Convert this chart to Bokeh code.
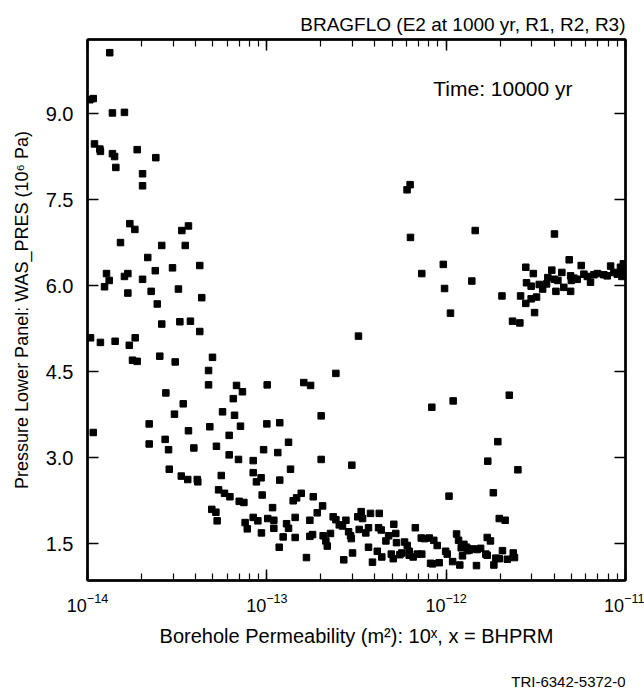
from bokeh.plotting import figure
from bokeh.layouts import column
from bokeh.models import (ColumnDataSource, LogAxis, LinearAxis, FixedTicker, LogTicker,
                          Title, Label, PrintfTickFormatter)
from bokeh.core.properties import value
from bokeh.embed import file_html
from bokeh.resources import INLINE

# BHPRM exponent (x) and pressure (10^6 Pa)
bhprm = [
    -13.876, -13.987, -13.968, -13.861, -13.794, -13.961, -13.931, -13.928, -13.861, -13.849,
    -13.723, -13.619, -13.842, -13.693, -13.693, -13.764, -13.736, -13.474, -13.437, -13.816,
    -13.586, -13.455, -13.664, -13.894, -13.879, -13.794, -13.775, -13.622, -13.526, -13.374,
    -13.693, -13.905, -13.775, -13.645, -13.493, -13.363, -13.611, -13.586, -13.485, -13.426,
    -13.374, -13.983, -13.928, -13.846, -13.767, -13.734, -13.749, -13.723, -13.597, -13.511,
    -13.303, -13.325, -13.325, -13.169, -13.136, -12.998, -13.563, -13.187, -13.466, -13.515,
    -13.247, -13.180, -13.968, -13.656, -13.656, -13.567, -13.548, -13.437, -13.407, -13.318,
    -13.147, -13.210, -13.281, -13.000, -13.018, -13.210, -13.158, -13.076, -13.544, -13.477,
    -13.441, -13.388, -13.385, -13.254, -13.076, -13.032, -13.058, -13.269, -13.236, -13.206,
    -13.154, -13.128, -13.026, -13.307, -13.284, -13.277, -13.121, -13.109, -13.076, -13.050,
    -13.030, -12.995,
    -12.928, -12.697, -12.080, -12.879, -12.939, -12.697, -12.526, -12.868, -12.928, -12.853,
    -12.834, -12.808, -12.741, -12.968, -12.689, -12.719, -12.961, -12.842, -12.760, -12.961,
    -12.890, -12.879, -12.909, -12.842, -12.760, -12.745, -12.931, -12.779, -12.686, -12.671,
    -12.663, -12.645, -12.630, -12.615, -12.596, -12.578, -12.559, -12.544, -12.533, -12.529,
    -12.522, -12.571, -12.493, -12.474, -12.466, -12.485, -12.448, -12.433, -12.422, -12.373,
    -12.377, -12.362, -12.433, -12.411, -12.384, -12.359, -12.336, -12.321, -12.292, -12.281,
    -12.277, -12.306, -12.295, -12.258, -12.247, -12.232, -12.217, -12.206, -12.206, -12.184,
    -12.161, -12.172, -12.139, -12.121, -12.094, -12.069, -12.050, -12.136, -12.087, -12.076,
    -12.039, -12.003, -11.984, -12.218, -12.201, -12.199, -12.016, -12.136, -12.009,
    -11.976, -12.489, -12.615, -12.794, -12.756,
    -11.838, -11.396, -11.857, -11.689, -11.556, -11.514, -11.585, -11.556, -11.526, -11.496,
    -11.507, -11.630, -11.589, -11.552, -11.526, -11.481, -11.462, -11.440, -11.433, -11.411,
    -11.396, -11.377, -11.388, -11.344, -11.355, -11.314, -11.247, -11.306, -11.302, -11.288,
    -11.269, -11.306, -11.232, -11.213, -11.195, -11.176, -11.157, -11.121, -11.102, -11.083,
    -11.065, -11.046, -11.028, -11.016, -11.020, -11.012, -11.961, -11.648,
    -11.712, -11.768, -11.600, -11.737, -11.704, -11.671, -11.942, -11.931, -11.771, -11.753,
    -11.994, -11.901, -11.886, -11.916, -11.871, -11.849, -11.827, -11.808, -11.909, -11.882,
    -11.779, -11.771, -11.686, -11.723, -11.704, -11.659, -11.626, -11.619, -11.964, -11.924,
    -11.831, -11.734,
]

was_pres = [
    10.06, 9.24, 9.26, 9.01, 9.02, 8.47, 8.38, 8.34, 8.30, 8.25,
    8.37, 8.23, 8.06, 7.95, 7.74, 7.08, 6.98, 6.96, 7.04, 6.75,
    6.70, 6.70, 6.49, 6.21, 6.09, 6.16, 6.21, 6.26, 6.31, 6.35,
    6.11, 5.98, 5.87, 5.90, 5.94, 5.79, 5.68, 5.33, 5.37, 5.38,
    5.20, 5.09, 5.01, 5.03, 4.96, 5.09, 4.70, 4.68, 4.77, 4.67,
    4.75, 4.52, 4.27, 4.26, 4.15, 4.27, 4.13, 4.03, 3.94, 3.76,
    3.80, 3.74, 3.44, 3.59, 3.24, 3.32, 3.14, 3.47, 3.17, 3.54,
    3.55, 3.39, 3.20, 3.59, 3.14, 3.05, 2.97, 2.95, 2.80, 2.68,
    2.62, 2.62, 2.58, 2.69, 2.74, 2.65, 2.58, 2.44, 2.38, 2.32,
    2.24, 2.22, 2.35, 2.10, 2.05, 1.90, 1.87, 1.76, 1.96, 1.90,
    1.69, 1.94,
    3.61, 3.73, 3.88, 3.27, 3.09, 2.97, 2.87, 2.80, 2.61, 2.25,
    2.30, 2.38, 2.32, 2.13, 2.16, 2.04, 1.91, 1.96, 1.91, 1.77,
    1.85, 1.77, 1.62, 1.61, 1.63, 1.66, 1.44, 1.26, 1.64, 1.55,
    1.46, 1.68, 1.97, 1.92, 1.83, 1.81, 1.91, 1.71, 1.64, 1.59,
    1.34, 1.22, 1.97, 2.06, 1.94, 1.75, 1.69, 1.78, 2.03, 2.03,
    1.78, 1.74, 1.44, 1.18, 1.37, 1.27, 1.55, 1.64, 1.84, 1.68,
    1.52, 1.32, 1.24, 1.31, 1.34, 1.53, 1.47, 1.37, 1.30, 1.27,
    1.32, 1.78, 1.60, 1.59, 1.60, 1.56, 1.47, 1.32, 1.16, 1.15,
    1.17, 1.37, 2.33, 7.67, 7.76, 6.84, 6.37, 6.21, 5.95,
    5.52, 5.12, 4.47, 4.31, 4.26,
    6.96, 6.90, 6.08, 5.82, 6.32, 6.21, 5.82, 5.69, 5.77, 5.80,
    5.53, 5.38, 5.35, 6.05, 5.99, 6.02, 5.94, 6.03, 6.14, 6.27,
    6.11, 6.09, 5.90, 5.97, 6.23, 6.45, 6.35, 6.17, 6.09, 6.13,
    6.11, 5.90, 6.20, 6.16, 6.06, 6.19, 6.21, 6.19, 6.17, 6.34,
    6.23, 6.20, 6.32, 6.26, 6.16, 6.38, 3.99, 4.09,
    3.28, 2.94, 2.79, 2.39, 1.94, 1.91, 1.67, 1.56, 1.61, 1.55,
    1.32, 1.49, 1.44, 1.43, 1.39, 1.41, 1.40, 1.42, 1.29, 1.38,
    1.32, 1.30, 1.38, 1.25, 1.24, 1.23, 1.34, 1.26, 1.19, 1.13,
    1.12, 1.13,
]

y_ticks = [1.5, 3.0, 4.5, 6.0, 7.5, 9.0]
title_text = "BRAGFLO (E2 at 1000 yr, R1, R2, R3)"
time_text = "Time: 10000 yr"
x_label = "Borehole Permeability (m\u00b2): 10\u02e3, x = BHPRM"
y_label = "Pressure Lower Panel: WAS_PRES (10\u2076 Pa)"
footer_text = "TRI-6342-5372-0"

FONT = "Liberation Sans"

src = ColumnDataSource(dict(x=[10 ** b for b in bhprm], y=was_pres))

fig = figure(width=644, height=670, x_axis_type="log",
             x_range=(1e-14, 1e-11), y_range=(0.86, 10.29),
             output_backend="svg", toolbar_location=None,
             min_border_left=87, min_border_right=19,
             min_border_top=39, min_border_bottom=90)
fig.grid.visible = False
fig.outline_line_color = "black"
fig.outline_line_width = 2
fig.background_fill_color = "white"
fig.border_fill_color = "white"

fig.scatter("x", "y", source=src, marker="square", size=6.5,
            fill_color="black", line_color="black")

xt = LogTicker(desired_num_ticks=4, num_minor_ticks=10)
yt = FixedTicker(ticks=y_ticks)

def style_axis(ax):
    ax.major_tick_in = 11
    ax.major_tick_out = 0
    ax.minor_tick_in = 7
    ax.minor_tick_out = 0
    ax.axis_line_width = 2.5
    ax.major_tick_line_width = 1.5
    ax.minor_tick_line_width = 1.2
    ax.major_label_text_font = FONT
    ax.major_label_text_font_size = "18px"
    ax.major_label_text_color = "black"
    ax.axis_label_text_font = FONT
    ax.axis_label_text_font_size = "20px"
    ax.axis_label_text_font_style = "normal"
    ax.axis_label_text_color = "black"

xa = fig.xaxis[0]
xa.ticker = xt
style_axis(xa)
xa.axis_label = x_label
xa.major_label_standoff = 12
xa.axis_label_standoff = 10

ya = fig.yaxis[0]
ya.ticker = yt
ya.formatter = PrintfTickFormatter(format="%.1f")
style_axis(ya)
ya.major_label_text_font_size = "20px"
ya.axis_label = y_label
ya.axis_label_text_font_size = "18px"
ya.major_label_standoff = 14
ya.axis_label_standoff = 11
ya.minor_tick_in = 0

top = LogAxis(ticker=xt)
style_axis(top)
top.major_label_text_font_size = "2px"
top.major_label_text_alpha = 0
top.major_label_standoff = 0
fig.add_layout(top, "above")

right = LinearAxis(ticker=yt)
style_axis(right)
right.major_label_text_font_size = "2px"
right.major_label_text_alpha = 0
right.major_label_standoff = 0
right.minor_tick_in = 0
fig.add_layout(right, "right")

t = Title(text=title_text, align="right", text_font=FONT, text_font_size="19px",
          text_font_style="normal", text_color="black")
fig.add_layout(t, "above")

fig.add_layout(Label(x=10 ** -12.072, y=9.44, text=time_text, text_font=FONT,
                     text_font_size="21px", text_baseline="middle", text_color="black"))

# Small strip below the chart carrying the figure id
foot = figure(width=644, height=22, x_range=(0, 1), y_range=(0, 1),
              output_backend="svg", toolbar_location=None,
              min_border_left=0, min_border_right=0,
              min_border_top=0, min_border_bottom=0)
foot.axis.visible = False
foot.grid.visible = False
foot.outline_line_color = None
foot.text(x=[1.0], y=[0.5], text=[footer_text], text_align="right",
          text_baseline="middle", text_font=value(FONT), text_font_size="15px",
          text_color="black")

p = column(fig, foot, spacing=0)

open("out.html", "w").write(file_html(p, INLINE))
